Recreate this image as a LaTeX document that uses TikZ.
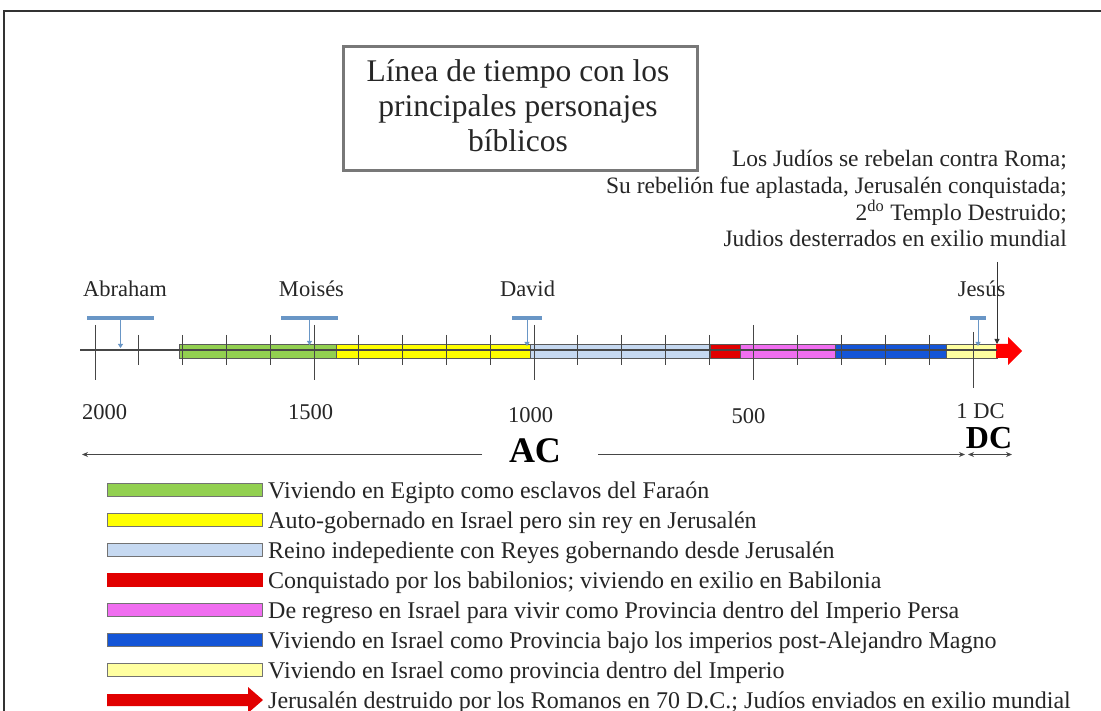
\documentclass[tikz,border=0pt]{standalone}
\usepackage{fontspec}
\setmainfont{Liberation Serif}
\usetikzlibrary{arrows.meta}
\definecolor{tcol}{RGB}{38,38,38}
\definecolor{cgreen}{RGB}{146,208,80}
\definecolor{cyellow}{RGB}{255,255,0}
\definecolor{clblue}{RGB}{198,217,241}
\definecolor{cred}{RGB}{225,0,0}
\definecolor{cpink}{RGB}{240,110,240}
\definecolor{cblue}{RGB}{20,85,215}
\definecolor{cpale}{RGB}{255,255,160}
\definecolor{arrred}{RGB}{255,0,0}
\definecolor{pcol}{RGB}{105,150,198}
\definecolor{tickcol}{RGB}{70,70,70}
\definecolor{boxgray}{RGB}{120,120,120}
\begin{document}
\begin{tikzpicture}[x=1pt,y=-1pt,
  every node/.style={inner sep=0pt, text=tcol},
  lbl/.style={font=\fontsize{22.5}{26}\selectfont, anchor=base},
  ttl/.style={font=\fontsize{31.5}{35}\selectfont, anchor=base},
  note/.style={font=\fontsize{23.5}{27}\selectfont, anchor=base east},
  leg/.style={font=\fontsize{24}{28}\selectfont, anchor=base west},
  big/.style={font=\fontsize{#1}{#1}\selectfont\bfseries, anchor=base, text=black},
  seg/.style={draw=black!65, line width=0.6pt},
  smalltick/.style={draw=tickcol, line width=0.9pt},
  pbar/.style={fill=pcol, minimum width=#1, minimum height=4.5pt},
  pline/.style={draw=pcol, line width=0.9pt, -{Triangle[length=4pt,width=5pt]}},
  axarrow/.style={draw=tickcol, line width=1.1pt, -{Stealth[length=6pt,width=5pt]}},
  swatch/.style={draw=black!55, line width=0.6pt, minimum width=155pt, minimum height=13pt},
]
\useasboundingbox (0,0) rectangle (1101,711);
\fill[white] (0,0) rectangle (1101,711);
\draw[line width=2pt, draw=black!80] (1101,11) -- (4,11) -- (4,711);

% title
\node[draw=boxgray, line width=3pt, minimum width=354pt, minimum height=124pt, fill=white] (tbox) at (520,109) {};
\node[ttl] (t1) at (518,82) {Línea de tiempo con los};
\node[ttl] (t2) at (518,117) {principales personajes};
\node[ttl] (t3) at (518,152) {bíblicos};

% note top right
\node[note] (n1) at (1067,167) {Los Judíos se rebelan contra Roma;};
\node[note] (n2) at (1067,194) {Su rebelión fue aplastada, Jerusalén conquistada;};
\node[note] (n3) at (1067,221) {2\textsuperscript{do} Templo Destruido;};
\node[note] (n4) at (1067,247) {Judios desterrados en exilio mundial};

% bars
\foreach \a/\b/\c in {179/336/cgreen, 336/530/cyellow, 530/710/clblue, 710/740/cred, 740/835/cpink, 835/946/cblue, 946/997/cpale}
  \path[seg, fill=\c] (\a,344) rectangle (\b,358);
\fill[arrred] (996,344) -- (1008,344) -- (1008,337) -- (1022,351) -- (1008,365) -- (1008,358) -- (996,358) -- cycle;

% axis
\coordinate (axL) at (80,350);
\coordinate (axR) at (997,350);
\draw[draw=tickcol, line width=1.2pt] (axL) -- (axR);
\foreach \c in {1,2,3,4,6,7,8,9,11,12,13,14,16,17,18,19}{
  \pgfmathsetmacro\xx{973-43.9*\c}
  \draw[smalltick] (\xx,335) -- (\xx,365);
}
\foreach \c in {5,10,15,20}{
  \pgfmathsetmacro\xx{973-43.9*\c}
  \draw[smalltick] (\xx,325) -- (\xx,380);
}
\draw[smalltick] (973,332) -- (973,388);

% persons
\node[lbl] (abr) at (125,297) {Abraham};
\node[pbar=67pt] (abrbar) at (120.5,318) {};
\coordinate (abrpt) at (120.5,348);
\draw[pline] (abrbar.south) -- (abrpt);

\node[lbl] (moi) at (311.5,297) {Moisés};
\node[pbar=57pt] (moibar) at (309.5,318) {};
\coordinate (moipt) at (309.5,345);
\draw[pline] (moibar.south) -- (moipt);

\node[lbl] (dav) at (527.5,297) {David};
\node[pbar=30pt] (davbar) at (527,318) {};
\coordinate (davpt) at (527,346);
\draw[pline] (davbar.south) -- (davpt);

\node[lbl] (jes) at (981.5,297) {Jesús};
\node[pbar=16pt] (jesbar) at (978,318) {};
\coordinate (jespt) at (978,346);
\draw[pline] (jesbar.south) -- (jespt);

% pointer from note
\coordinate (jtop) at (997,262);
\coordinate (jbot) at (997,344);
\draw[draw=black!80, line width=0.9pt, -{Triangle[length=5pt,width=5pt]}] (jtop) -- (jbot);

% years
\node[lbl] (y2000) at (104.5,420) {2000};
\node[lbl] (y1500) at (310.5,420) {1500};
\node[lbl] (y1000) at (530.5,422) {1000};
\node[lbl] (y500) at (748.5,423) {500};
\node[lbl] (y1) at (980.5,418) {1 DC};

% AC / DC
\node[big=36] (ac) at (535,462) {AC};
\node[big=32] (dc) at (989,448) {DC};
\coordinate (acl1) at (482,454.5);
\coordinate (acl2) at (82,454.5);
\coordinate (acr1) at (598,454.5);
\coordinate (acr2) at (965,454.5);
\coordinate (dcl) at (968,454.5);
\coordinate (dcr) at (1012,454.5);
\draw[axarrow] (acl1) -- (acl2);
\draw[axarrow] (acr1) -- (acr2);
\draw[draw=tickcol, line width=1.1pt, {Stealth[length=6pt,width=5pt]}-{Stealth[length=6pt,width=5pt]}] (dcl) -- (dcr);

% legend
\node[swatch, fill=cgreen] (s1) at (184.5,490) {};
\node[leg] (l1) at (268,498) {Viviendo en Egipto como esclavos del Faraón};
\node[swatch, fill=cyellow] (s2) at (184.5,520) {};
\node[leg] (l2) at (268,528) {Auto-gobernado en Israel pero sin rey en Jerusalén};
\node[swatch, fill=clblue] (s3) at (184.5,550) {};
\node[leg] (l3) at (268,558) {Reino indepediente con Reyes gobernando desde Jerusalén};
\node[swatch, fill=cred, draw=cred] (s4) at (184.5,580) {};
\node[leg] (l4) at (268,588) {Conquistado por los babilonios; viviendo en exilio en Babilonia};
\node[swatch, fill=cpink] (s5) at (184.5,610) {};
\node[leg] (l5) at (268,618) {De regreso en Israel para vivir como Provincia dentro del Imperio Persa};
\node[swatch, fill=cblue] (s6) at (184.5,640) {};
\node[leg] (l6) at (268,648) {Viviendo en Israel como Provincia bajo los imperios post-Alejandro Magno};
\node[swatch, fill=cpale] (s7) at (184.5,670) {};
\node[leg] (l7) at (268,678) {Viviendo en Israel como provincia dentro del Imperio};
\fill[cred] (107,694) -- (248,694) -- (248,687) -- (263,700) -- (248,713) -- (248,706) -- (107,706) -- cycle;
\node[leg] (l8) at (268,708) {Jerusalén destruido por los Romanos en 70 D.C.; Judíos enviados en exilio mundial};
\end{tikzpicture}
\end{document}
